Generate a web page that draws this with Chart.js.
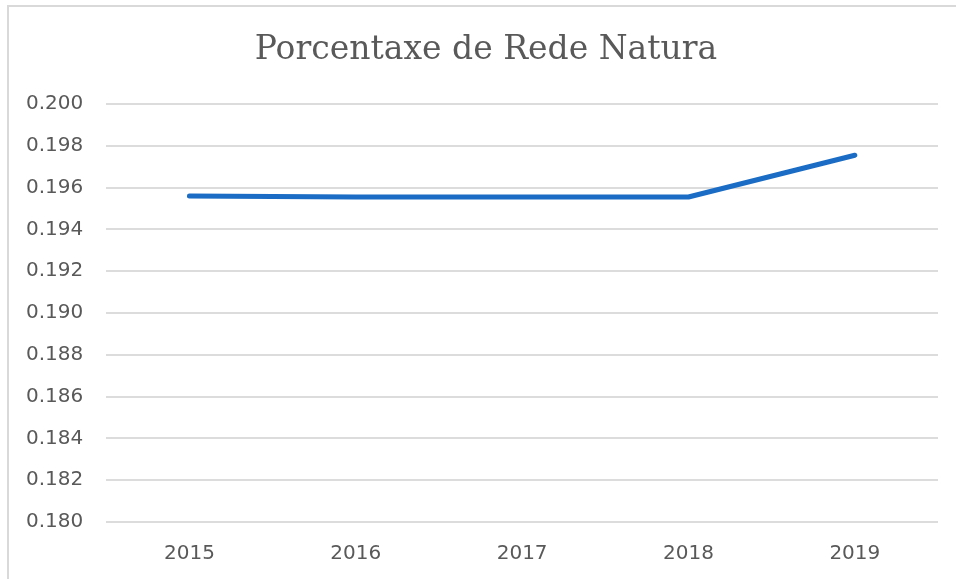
<!DOCTYPE html>
<html>
    <head>
        <title>Porcentaxe de Rede Natura</title>
        <script src="https://cdn.jsdelivr.net/npm/chart.js@4"></script>
        <style>
            html, body { margin: 0; padding: 0; background: #fff; overflow: hidden; }
            #frame {
                position: absolute; left: 7px; top: 5px;
                width: 1000px; height: 1000px;
                border: 2px solid #d9d9d9;
            }
            #wrap { position: absolute; left: 0; top: 0; width: 956px; height: 579px; }
        </style>
    </head>
    <body>
        <div id="frame"></div>
        <div id="wrap"><canvas id="chart"></canvas></div>

        <script>
            const years = ['2015', '2016', '2017', '2018', '2019']
            const values = [0.19560, 0.19555, 0.19555, 0.19555, 0.19755]
            const yMin = 0.18
            const yMax = 0.2
            const yStep = 0.002
            const titleText = 'Porcentaxe de Rede Natura'

            const textColor = '#595959'

            // title is centred on the frame, not on the padded chart box
            const frameTitle = {
                id: 'frameTitle',
                afterDraw(chart) {
                    const ctx = chart.ctx
                    ctx.save()
                    ctx.font = '33px "DejaVu Serif"'
                    ctx.fillStyle = textColor
                    ctx.textAlign = 'center'
                    ctx.textBaseline = 'middle'
                    ctx.fillText(titleText, 486, 50)
                    ctx.restore()
                },
            }

            new Chart('chart', {
                type: 'line',
                data: {
                    labels: years,
                    datasets: [
                        {
                            data: values,
                            label: 'Porcentaxe',
                            borderColor: '#1a6cc4',
                            borderWidth: 5,
                            borderCapStyle: 'round',
                            borderJoinStyle: 'round',
                            pointRadius: 0,
                            tension: 0,
                            fill: false,
                        },
                    ],
                },
                plugins: [frameTitle],
                options: {
                    responsive: true,
                    maintainAspectRatio: false,
                    animation: false,
                    layout: { padding: { left: 3, right: 18, top: 104, bottom: -7 } },
                    plugins: {
                        legend: { display: false },
                        tooltip: { enabled: false },
                        title: { display: false },
                    },
                    scales: {
                        x: {
                            offset: true,
                            grid: { display: false, drawTicks: false },
                            border: { display: false },
                            ticks: {
                                color: textColor,
                                padding: 20,
                                font: { family: 'DejaVu Sans', size: 20 },
                            },
                        },
                        y: {
                            min: yMin,
                            max: yMax,
                            border: { display: false },
                            grid: { color: '#dcdcdc', lineWidth: 2, drawTicks: false },
                            ticks: {
                                stepSize: yStep,
                                color: textColor,
                                padding: 23,
                                font: { family: 'DejaVu Sans', size: 20 },
                                callback: v => v.toFixed(3),
                            },
                        },
                    },
                },
            })
        </script>
    </body>
</html>
